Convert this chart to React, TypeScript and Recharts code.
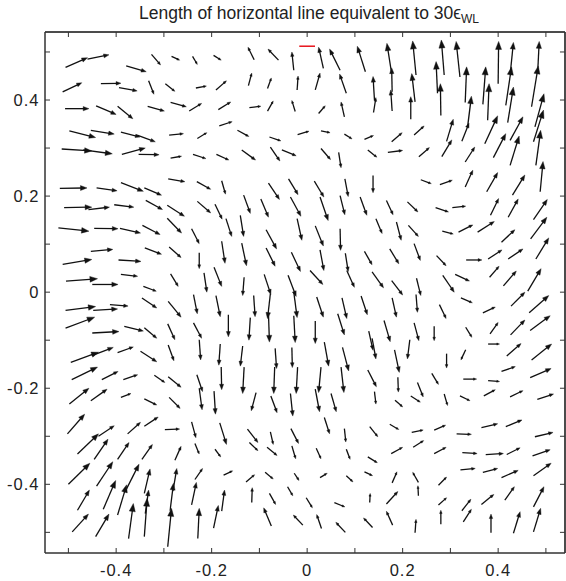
import React from 'react';
import { ScatterChart, Scatter, XAxis, YAxis, ReferenceLine, ReferenceArea, CartesianGrid } from 'recharts';

// Each arrow: [x, y, u, v] — tail position and displacement, in axis units.
type Arrow = [number, number, number, number];

const northWest: Arrow[] = [
  [-0.506, 0.468, 0.046, 0.020], [-0.460, 0.485, 0.045, 0.009], [-0.379, 0.471, 0.042, -0.012],
  [-0.326, 0.495, 0.019, -0.022], [-0.284, 0.491, 0.017, -0.008], [-0.240, 0.491, 0.010, -0.017],
  [-0.196, 0.493, 0.016, -0.010], [-0.512, 0.417, 0.040, 0.019], [-0.432, 0.434, 0.042, 0.001],
  [-0.394, 0.426, 0.038, -0.007], [-0.332, 0.440, 0.011, -0.028], [-0.297, 0.434, 0.020, -0.016],
  [-0.233, 0.425, 0.022, 0.004], [-0.191, 0.421, 0.022, 0.019], [-0.507, 0.382, 0.050, 0.000],
  [-0.442, 0.388, 0.042, -0.018], [-0.397, 0.387, 0.032, -0.026], [-0.334, 0.387, 0.035, -0.010],
  [-0.286, 0.395, 0.033, -0.009], [-0.247, 0.377, 0.026, 0.016], [-0.498, 0.336, 0.055, -0.014],
  [-0.453, 0.337, 0.049, -0.008], [-0.390, 0.333, 0.040, -0.010], [-0.356, 0.327, 0.038, -0.014],
  [-0.289, 0.327, 0.030, 0.003], [-0.230, 0.320, 0.020, 0.012], [-0.514, 0.298, 0.063, -0.004],
  [-0.469, 0.296, 0.061, -0.008], [-0.388, 0.287, 0.049, 0.013], [-0.353, 0.287, 0.043, -0.001],
  [-0.286, 0.279, 0.023, 0.004], [-0.239, 0.287, 0.027, -0.009], [-0.190, 0.287, 0.026, -0.012],
  [-0.518, 0.216, 0.057, 0.001], [-0.441, 0.217, 0.043, -0.006], [-0.390, 0.228, 0.047, -0.018],
  [-0.341, 0.217, 0.036, -0.015], [-0.291, 0.236, 0.035, -0.006], [-0.231, 0.230, 0.029, -0.016],
];

const northCentre: Arrow[] = [
  [-0.111, 0.484, -0.013, 0.026], [-0.060, 0.483, -0.022, 0.023], [-0.028, 0.462, -0.004, 0.038],
  [0.034, 0.466, -0.010, 0.044], [0.069, 0.462, -0.022, 0.044], [0.122, 0.459, -0.017, 0.053],
  [-0.123, 0.430, 0.007, 0.026], [-0.083, 0.424, 0.008, 0.022], [-0.021, 0.421, 0.002, 0.029],
  [0.017, 0.421, 0.010, 0.035], [0.082, 0.414, -0.014, 0.040], [0.141, 0.400, -0.003, 0.049],
  [0.139, 0.374, 0.005, 0.031], [-0.186, 0.380, 0.026, 0.016], [-0.121, 0.384, 0.024, 0.003],
  [-0.083, 0.377, 0.012, 0.021], [-0.025, 0.376, -0.007, 0.023], [0.024, 0.372, 0.014, 0.016],
  [0.078, 0.365, -0.007, 0.031], [-0.184, 0.346, 0.027, 0.009], [-0.146, 0.337, 0.024, -0.013],
  [-0.079, 0.323, 0.024, -0.008], [-0.020, 0.328, 0.024, 0.007], [0.029, 0.336, 0.019, -0.004],
  [0.078, 0.329, 0.016, -0.010], [0.120, 0.318, 0.019, 0.008], [-0.137, 0.296, 0.029, -0.021],
  [-0.077, 0.302, 0.020, -0.029], [-0.053, 0.296, 0.030, -0.012], [0.029, 0.299, 0.020, -0.023],
  [0.066, 0.291, 0.005, -0.032], [0.127, 0.296, 0.019, -0.015], [-0.179, 0.232, 0.008, -0.028],
  [-0.081, 0.227, 0.023, -0.034], [-0.039, 0.236, 0.020, -0.033], [0.015, 0.231, 0.020, -0.033],
  [0.079, 0.236, 0.007, -0.037], [0.138, 0.243, 0.000, -0.036],
];

const northEast: Arrow[] = [
  [0.177, 0.455, -0.010, 0.063], [0.178, 0.417, -0.001, 0.050], [0.178, 0.377, -0.003, 0.044],
  [0.228, 0.452, -0.007, 0.071], [0.226, 0.396, -0.007, 0.059], [0.217, 0.360, 0.000, 0.047],
  [0.287, 0.452, -0.006, 0.073], [0.273, 0.414, -0.003, 0.066], [0.280, 0.368, -0.001, 0.066],
  [0.320, 0.448, -0.008, 0.074], [0.331, 0.395, 0.003, 0.074], [0.336, 0.344, 0.008, 0.064],
  [0.400, 0.434, 0.001, 0.088], [0.426, 0.462, 0.006, 0.058], [0.416, 0.389, 0.012, 0.080],
  [0.420, 0.353, 0.012, 0.074], [0.368, 0.391, 0.006, 0.078], [0.378, 0.358, 0.003, 0.076],
  [0.483, 0.462, 0.003, 0.060], [0.470, 0.386, 0.014, 0.085], [0.477, 0.344, 0.019, 0.069],
  [0.474, 0.313, 0.021, 0.066], [0.479, 0.264, 0.010, 0.073], [0.488, 0.209, 0.006, 0.063],
  [0.177, 0.313, 0.022, 0.019], [0.224, 0.327, 0.021, 0.019], [0.292, 0.314, 0.014, 0.046],
  [0.324, 0.314, 0.015, 0.038], [0.372, 0.309, 0.027, 0.058], [0.425, 0.316, 0.027, 0.049],
  [0.169, 0.291, 0.031, 0.004], [0.234, 0.282, 0.022, 0.019], [0.282, 0.282, 0.021, 0.035],
  [0.331, 0.271, 0.020, 0.031], [0.390, 0.280, 0.026, 0.050], [0.425, 0.264, 0.019, 0.061],
  [0.238, 0.234, 0.022, -0.008], [0.278, 0.224, 0.026, 0.009], [0.331, 0.219, 0.016, 0.035],
  [0.376, 0.209, 0.023, 0.040], [0.430, 0.202, 0.026, 0.042],
];

const westBand: Arrow[] = [
  [-0.509, 0.176, 0.058, 0.001], [-0.458, 0.172, 0.044, 0.005], [-0.404, 0.182, 0.041, -0.005],
  [-0.338, 0.191, 0.035, -0.019], [-0.293, 0.181, 0.036, -0.023], [-0.230, 0.189, 0.028, -0.024],
  [-0.521, 0.134, 0.064, -0.007], [-0.446, 0.133, 0.050, -0.001], [-0.392, 0.133, 0.043, -0.010],
  [-0.345, 0.139, 0.037, -0.019], [-0.293, 0.154, 0.030, -0.031], [-0.242, 0.132, 0.016, -0.031],
  [-0.453, 0.085, 0.046, 0.004], [-0.512, 0.058, 0.061, 0.010], [-0.395, 0.067, 0.047, -0.003],
  [-0.340, 0.092, 0.035, -0.013], [-0.289, 0.094, 0.025, -0.022], [-0.226, 0.082, 0.000, -0.033],
  [-0.505, 0.023, 0.066, 0.005], [-0.450, 0.016, 0.054, 0.000], [-0.390, 0.037, 0.035, -0.004],
  [-0.343, 0.012, 0.027, -0.010], [-0.286, 0.038, 0.016, -0.026], [-0.216, 0.040, 0.006, -0.040],
  [-0.506, -0.038, 0.063, 0.008], [-0.448, -0.038, 0.051, 0.003], [-0.413, -0.026, 0.038, -0.003],
  [-0.346, -0.012, 0.031, -0.021], [-0.291, -0.019, 0.027, -0.033], [-0.238, -0.005, 0.008, -0.040],
  [-0.506, -0.075, 0.061, 0.023], [-0.450, -0.085, 0.056, 0.003], [-0.383, -0.071, 0.040, -0.010],
  [-0.341, -0.074, 0.026, -0.022], [-0.292, -0.066, 0.015, -0.033], [-0.238, -0.064, 0.017, -0.032],
  [-0.495, -0.146, 0.058, 0.021], [-0.451, -0.132, 0.045, 0.017], [-0.397, -0.126, 0.033, 0.012],
  [-0.349, -0.123, 0.034, -0.022], [-0.291, -0.110, 0.012, -0.033], [-0.226, -0.099, 0.003, -0.042],
];

const centreBand: Arrow[] = [
  [-0.193, 0.183, 0.015, -0.031], [-0.133, 0.202, 0.014, -0.038], [-0.097, 0.194, 0.016, -0.038],
  [-0.035, 0.198, 0.022, -0.040], [0.027, 0.198, 0.017, -0.049], [0.069, 0.201, 0.010, -0.040],
  [0.111, 0.198, 0.014, -0.038], [-0.170, 0.153, 0.012, -0.037], [-0.140, 0.160, 0.007, -0.044],
  [-0.086, 0.130, 0.022, -0.040], [-0.021, 0.153, 0.010, -0.045], [0.017, 0.138, 0.017, -0.042],
  [0.069, 0.132, 0.001, -0.045], [0.144, 0.153, 0.013, -0.031], [-0.179, 0.106, 0.007, -0.046],
  [-0.137, 0.102, 0.010, -0.047], [-0.086, 0.092, 0.019, -0.038], [-0.033, 0.083, 0.019, -0.040],
  [0.027, 0.088, 0.008, -0.043], [0.080, 0.081, 0.006, -0.038], [0.120, 0.085, 0.016, -0.028],
  [-0.195, 0.052, 0.016, -0.040], [-0.132, 0.031, -0.003, -0.038], [-0.090, 0.037, 0.014, -0.042],
  [-0.040, 0.035, 0.017, -0.044], [0.006, 0.045, 0.027, -0.029], [0.083, 0.045, 0.016, -0.035],
  [0.136, 0.042, 0.024, -0.033], [-0.191, -0.007, 0.009, -0.044], [-0.112, -0.007, 0.003, -0.044],
  [-0.077, -0.003, -0.006, -0.052], [-0.028, 0.000, 0.007, -0.053], [0.020, -0.010, 0.014, -0.042],
  [0.073, -0.012, 0.010, -0.043], [0.113, -0.008, 0.013, -0.039], [-0.165, -0.047, 0.000, -0.046],
  [-0.119, -0.053, -0.003, -0.047], [-0.081, -0.045, 0.002, -0.059], [-0.028, -0.049, 0.003, -0.056],
  [0.017, -0.060, 0.000, -0.047], [0.064, -0.045, 0.014, -0.044], [0.129, -0.081, 0.009, -0.040],
  [0.136, -0.096, 0.008, -0.043], [-0.182, -0.108, -0.003, -0.044], [-0.135, -0.112, -0.005, -0.042],
  [-0.067, -0.117, 0.003, -0.042], [-0.032, -0.115, 0.001, -0.042], [0.036, -0.104, 0.009, -0.050],
  [0.074, -0.115, 0.013, -0.049],
];

const eastBand: Arrow[] = [
  [0.166, 0.191, 0.014, -0.030], [0.210, 0.188, 0.022, -0.021], [0.269, 0.176, 0.027, -0.009],
  [0.304, 0.176, 0.028, 0.003], [0.384, 0.160, 0.017, 0.035], [0.421, 0.156, 0.021, 0.038],
  [0.474, 0.151, 0.029, 0.042], [0.187, 0.146, 0.010, -0.038], [0.212, 0.139, 0.021, -0.023],
  [0.283, 0.127, 0.023, -0.006], [0.317, 0.125, 0.030, 0.015], [0.357, 0.125, 0.035, 0.022],
  [0.407, 0.104, 0.028, 0.026], [0.468, 0.111, 0.034, 0.045], [0.173, 0.090, 0.019, -0.031],
  [0.224, 0.101, 0.013, -0.035], [0.271, 0.076, 0.020, -0.021], [0.333, 0.067, 0.033, 0.000],
  [0.379, 0.069, 0.029, 0.019], [0.421, 0.069, 0.031, 0.021], [0.479, 0.069, 0.027, 0.044],
  [0.177, 0.024, 0.023, -0.030], [0.229, 0.029, 0.009, -0.036], [0.284, 0.035, 0.024, -0.035],
  [0.310, 0.037, 0.030, -0.014], [0.382, 0.031, 0.020, 0.023], [0.411, 0.013, 0.027, 0.031],
  [0.462, 0.002, 0.028, 0.047], [0.178, -0.012, 0.009, -0.040], [0.228, -0.005, 0.003, -0.037],
  [0.277, -0.026, 0.014, -0.029], [0.322, -0.012, 0.024, -0.010], [0.368, -0.043, 0.026, 0.012],
  [0.427, -0.029, 0.029, 0.029], [0.465, -0.043, 0.041, 0.036], [0.161, -0.059, 0.013, -0.044],
  [0.224, -0.064, 0.010, -0.037], [0.266, -0.071, 0.000, -0.030], [0.332, -0.073, 0.013, -0.021],
  [0.383, -0.087, 0.017, 0.024], [0.426, -0.089, 0.030, 0.031], [0.467, -0.080, 0.042, 0.031],
  [0.183, -0.120, 0.010, -0.047], [0.215, -0.099, -0.005, -0.040], [0.292, -0.128, 0.000, -0.030],
  [0.332, -0.120, -0.010, -0.021], [0.379, -0.108, 0.024, 0.000], [0.418, -0.133, 0.030, 0.026],
  [0.470, -0.141, 0.042, 0.033], [0.407, -0.165, 0.029, 0.010], [0.467, -0.178, 0.044, 0.019],
];

const southWest: Arrow[] = [
  [-0.493, -0.182, 0.054, 0.026], [-0.430, -0.182, 0.034, 0.017], [-0.385, -0.182, 0.030, 0.010],
  [-0.320, -0.173, 0.022, -0.015], [-0.291, -0.176, 0.027, -0.022], [-0.231, -0.172, 0.012, -0.035],
  [-0.498, -0.233, 0.041, 0.033], [-0.453, -0.226, 0.034, 0.024], [-0.390, -0.219, 0.021, 0.008],
  [-0.341, -0.222, 0.026, -0.013], [-0.289, -0.219, 0.023, -0.023], [-0.226, -0.200, 0.006, -0.045],
  [-0.502, -0.295, 0.036, 0.041], [-0.437, -0.300, 0.033, 0.022], [-0.376, -0.295, 0.027, 0.024],
  [-0.341, -0.279, 0.029, 0.019], [-0.298, -0.286, 0.031, 0.001], [-0.242, -0.270, 0.009, -0.033],
  [-0.481, -0.337, 0.044, 0.042], [-0.446, -0.348, 0.029, 0.042], [-0.397, -0.348, 0.024, 0.035],
  [-0.346, -0.348, 0.022, 0.031], [-0.277, -0.350, 0.013, 0.029], [-0.235, -0.315, 0.009, -0.022],
  [-0.500, -0.400, 0.045, 0.044], [-0.441, -0.404, 0.034, 0.051], [-0.378, -0.409, 0.026, 0.051],
  [-0.341, -0.419, 0.012, 0.051], [-0.281, -0.414, 0.008, 0.047], [-0.235, -0.390, 0.016, 0.023],
  [-0.481, -0.454, 0.025, 0.042], [-0.427, -0.452, 0.026, 0.060], [-0.397, -0.464, 0.019, 0.063],
  [-0.339, -0.461, 0.007, 0.049], [-0.341, -0.509, 0.006, 0.080], [-0.287, -0.455, 0.007, 0.057],
  [-0.292, -0.530, 0.008, 0.080], [-0.242, -0.443, 0.010, 0.047], [-0.229, -0.513, 0.003, 0.063],
  [-0.492, -0.499, 0.034, 0.037], [-0.443, -0.509, 0.028, 0.047], [-0.374, -0.513, 0.010, 0.073],
];

const southCentre: Arrow[] = [
  [-0.180, -0.156, 0.001, -0.047], [-0.132, -0.156, -0.003, -0.055], [-0.068, -0.156, -0.002, -0.055],
  [-0.020, -0.156, -0.003, -0.055], [0.029, -0.156, -0.005, -0.053], [0.071, -0.156, 0.006, -0.053],
  [0.127, -0.162, 0.018, -0.035], [-0.195, -0.206, 0.003, -0.048], [-0.107, -0.209, -0.010, -0.038],
  [-0.076, -0.216, 0.013, -0.035], [-0.035, -0.211, 0.005, -0.047], [0.017, -0.202, 0.009, -0.047],
  [0.050, -0.211, 0.011, -0.038], [0.141, -0.207, 0.003, -0.026], [-0.183, -0.272, 0.014, -0.045],
  [-0.125, -0.285, 0.022, -0.028], [-0.077, -0.291, 0.006, -0.026], [-0.034, -0.284, 0.016, -0.031],
  [0.036, -0.261, 0.011, -0.034], [0.078, -0.284, 0.003, -0.028], [0.131, -0.280, 0.017, -0.021],
  [-0.193, -0.327, 0.012, -0.016], [-0.121, -0.313, 0.018, -0.017], [-0.084, -0.323, 0.021, -0.017],
  [-0.032, -0.320, 0.008, -0.027], [0.019, -0.325, 0.010, -0.022], [0.082, -0.327, 0.008, -0.021],
  [0.127, -0.343, 0.020, -0.012], [-0.175, -0.381, 0.019, 0.009], [-0.128, -0.395, 0.018, 0.015],
  [-0.088, -0.375, 0.017, -0.014], [-0.027, -0.377, 0.010, -0.015], [0.027, -0.386, 0.015, 0.009],
  [0.082, -0.382, 0.014, -0.013], [0.120, -0.374, 0.017, -0.008], [-0.179, -0.456, 0.006, 0.044],
  [-0.116, -0.438, 0.001, 0.031], [-0.079, -0.419, 0.013, -0.023], [-0.041, -0.405, 0.011, -0.019],
  [-0.002, -0.428, 0.013, -0.021], [0.057, -0.438, 0.022, -0.009], [0.131, -0.438, 0.001, 0.019],
  [-0.196, -0.491, 0.010, 0.047], [-0.075, -0.487, -0.016, 0.038], [-0.009, -0.485, -0.020, 0.021],
  [0.030, -0.492, -0.010, 0.029], [0.080, -0.500, -0.020, 0.021], [0.137, -0.490, -0.019, 0.020],
];

const southEast: Arrow[] = [
  [0.327, -0.181, 0.028, 0.000], [0.379, -0.184, 0.024, -0.002], [0.261, -0.169, 0.014, -0.023],
  [0.190, -0.177, 0.001, -0.031], [0.231, -0.188, 0.012, -0.030], [0.184, -0.225, 0.016, -0.014],
  [0.217, -0.216, 0.020, -0.013], [0.287, -0.212, 0.007, -0.024], [0.320, -0.216, 0.021, -0.010],
  [0.370, -0.216, 0.024, 0.013], [0.425, -0.218, 0.027, 0.013], [0.482, -0.223, 0.034, 0.011],
  [0.173, -0.275, 0.019, -0.011], [0.219, -0.292, 0.024, 0.005], [0.266, -0.287, 0.024, 0.010],
  [0.313, -0.295, 0.031, -0.001], [0.365, -0.282, 0.034, 0.008], [0.416, -0.280, 0.034, 0.014],
  [0.477, -0.301, 0.038, 0.009], [0.176, -0.336, 0.024, 0.013], [0.222, -0.323, 0.022, 0.014],
  [0.266, -0.336, 0.025, 0.013], [0.325, -0.334, 0.031, -0.002], [0.374, -0.338, 0.037, 0.002],
  [0.418, -0.338, 0.028, 0.014], [0.472, -0.341, 0.037, 0.013], [0.178, -0.397, 0.010, 0.023],
  [0.233, -0.396, -0.012, 0.021], [0.275, -0.402, 0.017, 0.017], [0.321, -0.370, 0.031, 0.003],
  [0.368, -0.375, 0.031, 0.008], [0.407, -0.386, 0.035, 0.015], [0.474, -0.382, 0.037, 0.026],
  [0.166, -0.441, 0.024, 0.026], [0.233, -0.424, -0.001, 0.021], [0.275, -0.443, 0.017, 0.015],
  [0.324, -0.455, 0.019, 0.024], [0.365, -0.442, 0.026, 0.021], [0.414, -0.433, 0.020, 0.028],
  [0.474, -0.447, 0.022, 0.042], [0.179, -0.485, -0.013, 0.029], [0.226, -0.501, 0.002, 0.028],
  [0.280, -0.483, 0.000, 0.029], [0.327, -0.478, 0.017, 0.026], [0.385, -0.501, 0.000, 0.039],
  [0.432, -0.502, 0.014, 0.045], [0.474, -0.499, 0.015, 0.049],
];

// Axis setup
const X_DOMAIN: [number, number] = [-0.549, 0.54];
const Y_DOMAIN: [number, number] = [-0.543, 0.5416];
const AXIS_TICKS = [-0.5, -0.4, -0.3, -0.2, -0.1, 0, 0.1, 0.2, 0.3, 0.4, 0.5];
// inward tick length on the top/right edges, in axis units (about 5 px)
const TICK_DX = 0.0105;
const TICK_DY = 0.0104;
// tiny inset so frame segments sit just inside the plotted range
const EDGE_INSET = 1e-5;

// Scale bar: a horizontal segment 30 strain units long, 0.0011 axis units per unit.
const SCALE_BAR_STRAIN = 30;
const AXIS_UNITS_PER_STRAIN = 0.0011;
const SCALE_BAR_Y = 0.512;

const labelEveryOther = (v: number) => {
  const k = Math.round(v * 10);
  return k % 2 === 0 ? String(k / 10) : '';
};

const INK = '#111';
const AXIS_COLOR = '#333';

const ArrowShape = (props: any) => {
  const { x1, y1, x2, y2 } = props;
  const dx = x2 - x1;
  const dy = y2 - y1;
  const len = Math.hypot(dx, dy);
  if (!len) return <g />;
  const ux = dx / len;
  const uy = dy / len;
  const head = Math.max(2.8, Math.min(8, len * 0.24));
  const half = head * 0.38;
  const bx = x2 - ux * head;
  const by = y2 - uy * head;
  const pts = `${x2},${y2} ${bx - uy * half},${by + ux * half} ${bx + uy * half},${by - ux * half}`;
  return (
    <g>
      <line x1={x1} y1={y1} x2={bx + ux * head * 0.4} y2={by + uy * head * 0.4} stroke={INK} strokeWidth={1.3} />
      <polygon points={pts} fill={INK} stroke={INK} strokeWidth={0.4} strokeLinejoin="miter" />
    </g>
  );
};

// Plain axis-coloured stroke used for the frame edges and tick stubs
const AxisStroke = (props: any) => {
  const { x1, y1, x2, y2 } = props;
  return (
    <g>
      <line x1={x1} y1={y1} x2={x2} y2={y2} stroke={AXIS_COLOR} strokeWidth={1} />
    </g>
  );
};

const allArrows: Arrow[] = [
  ...northWest, ...northCentre, ...northEast,
  ...westBand, ...centreBand, ...eastBand,
  ...southWest, ...southCentre, ...southEast,
];

const tails = allArrows.map(([x, y]) => ({ x, y }));

const NoMarker = () => <g />;

export default function App() {
  const font = '"Liberation Sans", Arial, Helvetica, sans-serif';
  const tickStyle = { fontSize: 16.5, fill: '#222', fontFamily: font, letterSpacing: 1 };
  const halfBar = (SCALE_BAR_STRAIN * AXIS_UNITS_PER_STRAIN) / 2;
  const xLo = X_DOMAIN[0] + EDGE_INSET;
  const xHi = X_DOMAIN[1] - EDGE_INSET;
  const yLo = Y_DOMAIN[0] + EDGE_INSET;
  const yHi = Y_DOMAIN[1] - EDGE_INSET;
  return (
    <div style={{ position: 'absolute', left: 0, top: 0, width: 566, height: 581, background: '#fff', overflow: 'hidden', fontFamily: font }}>
      <div
        style={{
          position: 'absolute', left: 309, top: 4, transform: 'translateX(-50%)',
          whiteSpace: 'nowrap', fontSize: 17.5, lineHeight: '18px', color: '#222',
        }}
      >
        Length of horizontal line equivalent to 30ϵ
        <span style={{ fontSize: 12, position: 'relative', top: 4 }}>WL</span>
      </div>
      <ScatterChart width={566} height={581} margin={{ top: 32, right: 1, bottom: 0, left: 0 }}>
        {/* top and right frame edges */}
        <CartesianGrid
          stroke={AXIS_COLOR}
          fill="none"
          horizontalCoordinatesGenerator={({ offset }: any) => [offset.top]}
          verticalCoordinatesGenerator={({ offset }: any) => [offset.left + offset.width]}
        />
        <XAxis
          dataKey="x" type="number" domain={X_DOMAIN} allowDataOverflow ticks={AXIS_TICKS} interval={0}
          tickFormatter={labelEveryOther} tickSize={-5} tickMargin={16} height={28}
          axisLine={{ stroke: AXIS_COLOR }} tickLine={{ stroke: AXIS_COLOR }} tick={tickStyle}
        />
        <YAxis
          dataKey="y" type="number" domain={Y_DOMAIN} allowDataOverflow ticks={AXIS_TICKS} interval={0}
          tickFormatter={labelEveryOther} tickSize={-5} tickMargin={10.5} width={45}
          axisLine={{ stroke: AXIS_COLOR }} tickLine={{ stroke: AXIS_COLOR }} tick={tickStyle}
        />
        <Scatter data={tails} isAnimationActive={false} shape={NoMarker} />
        <ReferenceArea
          x1={X_DOMAIN[0]} x2={X_DOMAIN[1]} y1={Y_DOMAIN[0]} y2={Y_DOMAIN[1]}
          ifOverflow="visible" fill="none" fillOpacity={0} stroke={AXIS_COLOR} strokeWidth={1}
        />
        <ReferenceLine segment={[{ x: xLo, y: yHi }, { x: xHi, y: yHi }]} ifOverflow="visible" shape={AxisStroke} />
        <ReferenceLine segment={[{ x: xHi, y: yLo }, { x: xHi, y: yHi }]} ifOverflow="visible" shape={AxisStroke} />
        {AXIS_TICKS.map((t) => (
          <ReferenceLine
            key={`top${t}`}
            segment={[{ x: t, y: yHi }, { x: t, y: yHi - TICK_DY }]}
            ifOverflow="visible"
            shape={AxisStroke}
          />
        ))}
        {AXIS_TICKS.map((t) => (
          <ReferenceLine
            key={`right${t}`}
            segment={[{ x: xHi, y: t }, { x: xHi - TICK_DX, y: t }]}
            ifOverflow="visible"
            shape={AxisStroke}
          />
        ))}
        {allArrows.map(([x, y, u, v], i) => (
          <ReferenceLine
            key={i}
            segment={[{ x, y }, { x: x + u, y: y + v }]}
            ifOverflow="visible"
            shape={ArrowShape}
          />
        ))}
        <ReferenceLine
          segment={[{ x: -halfBar, y: SCALE_BAR_Y }, { x: halfBar, y: SCALE_BAR_Y }]}
          ifOverflow="visible"
          stroke="#e8141c"
          strokeWidth={1.5}
        />
      </ScatterChart>
    </div>
  );
}
